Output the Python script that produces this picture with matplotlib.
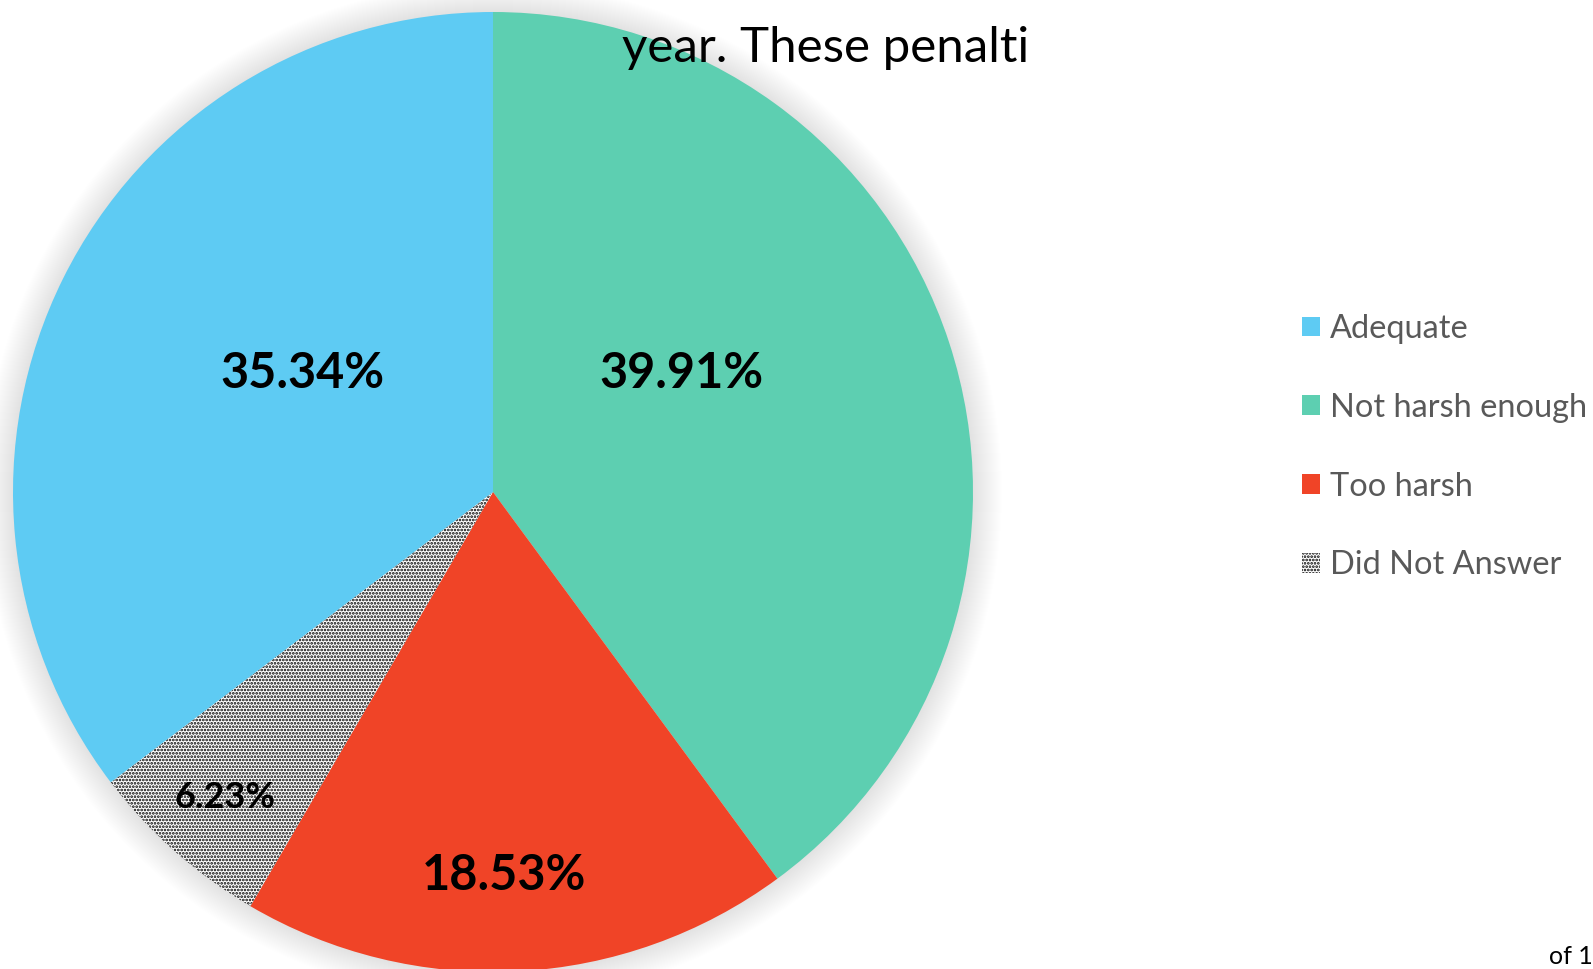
import matplotlib.pyplot as plt
from matplotlib.patches import Circle, Patch
import numpy as np

# --- Data ---
categories = ["Not harsh enough", "Too harsh", "Did Not Answer", "Adequate"]
shares = [39.91, 18.53, 6.23, 35.34]
legend_order = ["Adequate", "Not harsh enough", "Too harsh", "Did Not Answer"]

colors = {
    "Adequate": "#5ecbf3",
    "Not harsh enough": "#5dcfb1",
    "Too harsh": "#f04427",
    "Did Not Answer": "white",
}

W, H = 1593, 969
plt.rcParams['font.family'] = ['Lato', 'DejaVu Sans']
plt.rcParams['hatch.linewidth'] = 1.3

fig = plt.figure(figsize=(W / 100, H / 100), dpi=100)
ax = fig.add_axes([0, 0, 1, 1])

cx, cy, r = 493, H - 492, 480

# soft shadow behind the pie
for k in range(1, 30):
    ax.add_patch(Circle((cx, cy), r + k, facecolor='black', alpha=0.005,
                        edgecolor='none', zorder=0))

wedges, _ = ax.pie(shares, colors=[colors[c] for c in categories],
                   startangle=90, counterclock=False, center=(cx, cy),
                   radius=r, frame=True,
                   wedgeprops=dict(linewidth=0))
for w, c in zip(wedges, categories):
    w.set_zorder(2)
    if c == "Did Not Answer":
        w.set_hatch('.....')
        w.set_edgecolor('black')
        w.set_linewidth(0)
ax.set_xlim(0, W)
ax.set_ylim(0, H)
ax.set_aspect('equal')
ax.axis('off')

# value labels
label_pos = {
    "Adequate": (302, 373, 35),
    "Not harsh enough": (681, 373, 35),
    "Too harsh": (504, 876, 35),
    "Did Not Answer": (225, 798, 26),
}
for c, v in zip(categories, shares):
    x, y, fs = label_pos[c]
    ax.text(x, H - y, f"{v:.2f}%", ha='center', va='center', fontsize=fs,
            fontweight='bold', color='black', zorder=5)

# legend
handles = []
for c in legend_order:
    if c == "Did Not Answer":
        handles.append(Patch(facecolor='white', hatch='.....', edgecolor='black',
                             linewidth=0, label=c))
    else:
        handles.append(Patch(facecolor=colors[c], edgecolor='none', label=c))
leg = fig.legend(handles=handles, loc='upper left', bbox_to_anchor=(1302 / W, 1 - 314 / H),
                 frameon=False, fontsize=23.4, labelcolor='#595959',
                 handlelength=0.55, handleheight=0.55, handletextpad=0.3,
                 labelspacing=1.5, borderpad=0, borderaxespad=0)

# stray page text
ax.text(622, H - 48, "year. These penalti", ha='left', va='center', fontsize=35.5,
        color='black', zorder=6)
ax.text(1549, H - 957, "of 1", ha='left', va='center', fontsize=18, color='black')

fig.savefig("out.png", dpi=100)
